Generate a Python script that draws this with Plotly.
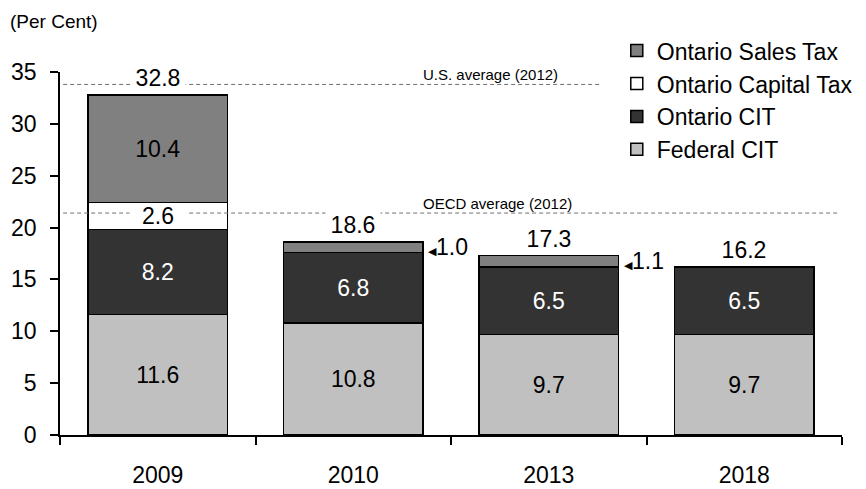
import plotly.graph_objects as go

categories = ["2009", "2010", "2013", "2018"]
federal_cit = [11.6, 10.8, 9.7, 9.7]
ontario_cit = [8.2, 6.8, 6.5, 6.5]
capital_tax = [2.6, 0.0, 0.0, 0.0]
sales_tax = [10.4, 1.0, 1.1, 0.0]
us_average = 33.8
oecd_average = 21.4
y_ticks = [0, 5, 10, 15, 20, 25, 30, 35]

FONT = "Liberation Sans, Arial, sans-serif"
FS = 23
BAR_GAP = 0.284
HALF_W = (1 - BAR_GAP) / 2

totals = [round(a + b + c + d, 1) for a, b, c, d in zip(federal_cit, ontario_cit, capital_tax, sales_tax)]

def fmt(v):
    return f"{v:.1f}"

fig = go.Figure()
line = dict(color="black", width=1.5)

fig.add_trace(go.Bar(
    x=categories, y=federal_cit, name="Federal CIT", legendgroup="a",
    marker=dict(color="#c0c0c0", line=line),
    text=[fmt(v) for v in federal_cit], textposition="inside",
    insidetextanchor="middle", constraintext="none",
    textfont=dict(color="black", size=FS, family=FONT),
))
fig.add_trace(go.Bar(
    x=categories, y=ontario_cit, name="Ontario CIT", legendgroup="b",
    marker=dict(color="#333333", line=line),
    text=[fmt(v) for v in ontario_cit], textposition="inside",
    insidetextanchor="middle", constraintext="none",
    textfont=dict(color="white", size=FS, family=FONT),
))
fig.add_trace(go.Bar(
    x=categories, y=capital_tax, name="Ontario Capital Tax", legendgroup="c",
    marker=dict(color="white", line=line),
))
fig.add_trace(go.Bar(
    x=categories, y=sales_tax, name="Ontario Sales Tax", legendgroup="d",
    marker=dict(color="#808080", line=line),
    text=[fmt(v) if v >= 2 else "" for v in sales_tax], textposition="inside",
    insidetextanchor="middle", constraintext="none",
    textfont=dict(color="black", size=FS, family=FONT),
))

annotations = []
# totals above bars
for i, t in enumerate(totals):
    annotations.append(dict(
        x=i, y=t, xref="x", yref="y", text=fmt(t), showarrow=False,
        yanchor="bottom", yshift=3, bgcolor="white", borderpad=0, width=54,
        font=dict(size=FS, family=FONT, color="black"),
    ))
# capital tax labels (white box over the dashed line)
for i, v in enumerate(capital_tax):
    if v > 0:
        base = federal_cit[i] + ontario_cit[i]
        annotations.append(dict(
            x=i, y=base + v / 2, xref="x", yref="y", text=fmt(v),
            showarrow=False, bgcolor="white", borderpad=0, width=56, height=22,
            font=dict(size=FS, family=FONT, color="black"),
        ))
# small sales-tax labels to the right of the bar
for i, v in enumerate(sales_tax):
    if 0 < v < 2:
        base = federal_cit[i] + ontario_cit[i] + capital_tax[i]
        annotations.append(dict(
            x=i + HALF_W, y=base + v / 2, xref="x", yref="y",
            text="<span style='font-size:11px'>◀</span>" + fmt(v),
            showarrow=False, xanchor="left", xshift=3,
            font=dict(size=FS, family=FONT, color="black"),
        ))
# reference line labels
annotations.append(dict(
    x=0.55, y=us_average, xref="paper", yref="y", text="U.S. average (2012)",
    showarrow=False, yanchor="bottom", yshift=-1,
    font=dict(size=15, family=FONT, color="black"),
))
annotations.append(dict(
    x=0.56, y=oecd_average, xref="paper", yref="y", text="OECD average (2012)",
    showarrow=False, yanchor="bottom", yshift=-1,
    font=dict(size=15, family=FONT, color="black"),
))
annotations.append(dict(
    x=-0.066, y=1.14, xref="paper", yref="paper", text="(Per Cent)",
    showarrow=False, xanchor="left", yanchor="middle",
    font=dict(size=19, family=FONT, color="black"),
))

shapes = [
    dict(type="line", xref="paper", yref="y", x0=0.004, x1=0.69,
         y0=us_average, y1=us_average,
         line=dict(color="#707070", width=1, dash="4px,3px"), layer="above"),
    dict(type="line", xref="paper", yref="y", x0=0.004, x1=0.995,
         y0=oecd_average, y1=oecd_average,
         line=dict(color="#707070", width=1, dash="4px,3px"), layer="above"),
]

fig.update_layout(
    width=866, height=489,
    margin=dict(l=60, r=24, t=72, b=54, autoexpand=False),
    paper_bgcolor="white", plot_bgcolor="white",
    barmode="stack", bargap=BAR_GAP,
    font=dict(family=FONT, size=FS, color="black"),
    showlegend=True,
    legend=dict(
        x=0.712, y=1.118, xanchor="left", yanchor="top",
        traceorder="reversed", tracegroupgap=12,
        font=dict(size=FS, family=FONT, color="black"),
        bgcolor="rgba(0,0,0,0)",
    ),
    annotations=annotations,
    shapes=shapes,
    xaxis=dict(
        type="category", range=[-0.5, 3.5], showline=True, linecolor="black",
        linewidth=1.5, ticks="outside", tickson="boundaries", ticklen=8,
        tickcolor="black", tickwidth=1.5, showgrid=False,
        tickfont=dict(size=FS, family=FONT), ticklabelstandoff=19,
    ),
    yaxis=dict(
        range=[0, 35], tickvals=y_ticks, showline=True, linecolor="black",
        linewidth=1.5, ticks="outside", ticklen=8, tickcolor="black",
        tickwidth=1.5, showgrid=False, zeroline=False,
        tickfont=dict(size=FS, family=FONT), ticklabelstandoff=9,
    ),
)

fig.write_html(
    "out.html",
    config={"displayModeBar": False},
    post_script="document.body.style.margin='0px';",
)
